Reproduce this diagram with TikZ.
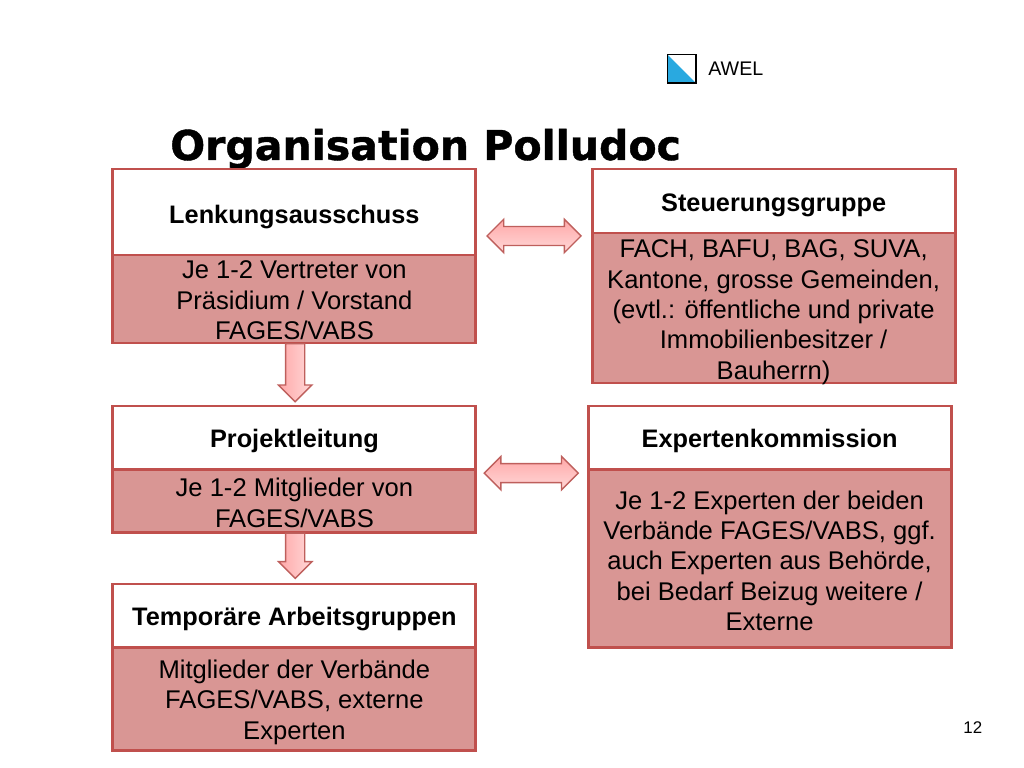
\documentclass[tikz,border=0pt]{standalone}
\usepackage{fontspec}
\setmainfont{Liberation Sans}
\newfontfamily\titlefont[BoldFeatures={FakeBold=1}]{DejaVu Sans}
\usepackage{tikz}
\usetikzlibrary{positioning,shapes.arrows,calc}
\definecolor{boxline}{HTML}{C0504D}
\definecolor{boxfill}{HTML}{D99694}
\definecolor{arrowline}{HTML}{BE5F5C}
\definecolor{arrowtop}{HTML}{FFA8A8}
\definecolor{arrowbot}{HTML}{FFD8D8}
\definecolor{logoblue}{HTML}{29A9E0}
\tikzset{
    head/.style = {
        draw=boxline,
        fill=white,
        shape=rectangle,
        minimum width=9.075cm,
        line width=2pt,
        outer sep=0pt,
        text height=15.5pt,
        text depth=1pt,
        font=\fontsize{18}{21}\selectfont\bfseries
    },
    body/.style = {
        draw=boxline,
        fill=boxfill,
        shape=rectangle,
        minimum width=9.075cm,
        line width=2pt,
        outer sep=0pt,
        align=center,
        inner sep=0pt,
        font=\fontsize{18.2}{21.6}\selectfont
    },
    twoway/.style = {
        shape=double arrow,
        draw=arrowline,
        top color=arrowtop,
        bottom color=arrowbot,
        line width=1pt,
        inner sep=0pt,
        inner ysep=0.22cm,
        minimum height=2.35cm,
        double arrow head extend=0.18cm,
        double arrow tip angle=90
    },
    oneway/.style = {
        shape=single arrow,
        draw=arrowline,
        left color=arrowtop,
        right color=arrowbot,
        line width=1pt,
        inner sep=0pt,
        inner ysep=0.22cm,
        single arrow head extend=0.18cm,
        single arrow tip angle=90,
        rotate=-90
    }
}
\begin{document}
\begin{tikzpicture}
                \useasboundingbox (0,0) rectangle (25.6,19.2);

                \node[draw=black,line width=1pt,minimum size=0.72cm,inner sep=0pt,outer sep=0pt] (logo) at (17.04,17.48) {};
                \fill[logoblue] (logo.north west) -- (logo.south east) -- (logo.south west) -- cycle;
                \draw[black,line width=1pt] (logo.north west) rectangle (logo.south east);
                \node[font=\fontsize{14}{16}\selectfont,anchor=west,inner sep=0pt] (awel) at (17.7,17.48) {AWEL};
                \node[font=\fontsize{29.2}{32}\selectfont\titlefont\bfseries,anchor=base west,inner sep=0pt] (title) at (4.25,15.2) {Organisation Polludoc};

                \node[head,text height=18pt,minimum height=2.15cm] (lenk) at (7.36,13.9) {Lenkungsausschuss};
                \node[body,minimum height=2.2cm,below=0cm of lenk] (lenkbody) {\rule{0pt}{14.5pt}Je 1-2 Vertreter von\\Präsidium / Vorstand\\FAGES/VABS};
                \node[head,minimum height=1.6cm] (steuer) at (19.34,14.175) {Steuerungsgruppe};
                \node[body,inner ysep=-3pt,minimum height=3.75cm,below=0cm of steuer] (steuerbody) {\rule{0pt}{18.8pt}FACH, BAFU, BAG, SUVA,\\Kantone, grosse Gemeinden,\\(evtl.: öffentliche und private\\Immobilienbesitzer /\\Bauherrn)};
                \node[head,minimum height=1.58cm] (projekt) at (7.36,8.26) {Projektleitung};
                \node[body,minimum height=1.58cm,below=0cm of projekt] (projektbody) {\rule{0pt}{16pt}Je 1-2 Mitglieder von\\FAGES/VABS};
                \node[head,minimum height=1.58cm] (exp) at (19.24,8.26) {Expertenkommission};
                \node[body,minimum height=4.45cm,below=0cm of exp] (expbody) {\rule{0pt}{16.6pt}Je 1-2 Experten der beiden\\Verbände FAGES/VABS, ggf.\\auch Experten aus Behörde,\\bei Bedarf Beizug weitere /\\Externe};
                \node[head,minimum height=1.58cm] (temp) at (7.36,3.81) {Temporäre Arbeitsgruppen};
                \node[body,minimum height=2.58cm,below=0cm of temp] (tempbody) {\rule{0pt}{18pt}Mitglieder der Verbände\\FAGES/VABS, externe\\Experten};

                \node[twoway] (arrowtop) at (13.35,13.3) {};
                \node[twoway] (arrowmid) at (13.28,7.37) {};
                \node[oneway,minimum height=1.45cm] (arrowlenk) at (7.38,10) {};
                \node[oneway,minimum height=1.13cm] (arrowprojekt) at (7.38,5.425) {};

                \node[font=\fontsize{12}{14}\selectfont,inner sep=0pt] (page) at (24.32,1) {12};
            \end{tikzpicture}
\end{document}
